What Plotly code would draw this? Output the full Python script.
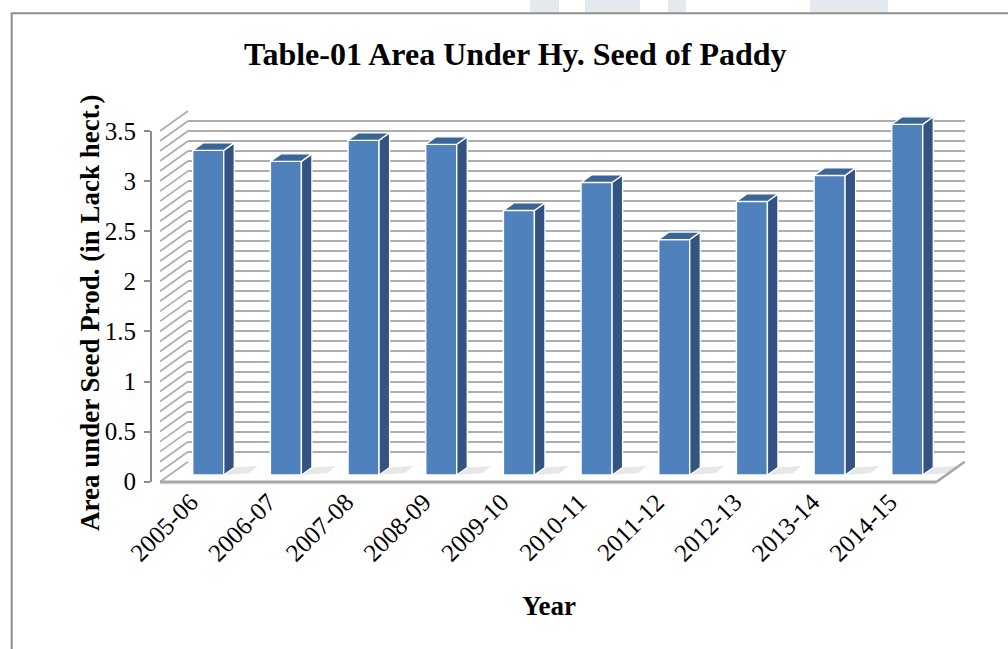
import plotly.graph_objects as go

# ---------------- data ----------------
years = ["2005-06", "2006-07", "2007-08", "2008-09", "2009-10",
         "2010-11", "2011-12", "2012-13", "2013-14", "2014-15"]
area = [3.24, 3.13, 3.34, 3.30, 2.64, 2.92, 2.35, 2.73, 2.99, 3.50]
y_ticks = [0, 0.5, 1, 1.5, 2, 2.5, 3, 3.5]
grid_vals = [round(i * 0.1, 1) for i in range(36)]

# ---------------- geometry (pixels) ----------------
W, H = 1008, 649
def X(p):
    return p / W
def Y(p):
    return 1 - p / H

PXU = 100.2              # pixels per value unit
BASE = 481.7             # front y of value 0
LEFT, RIGHT = 160, 936.7 # front floor edge
DDX, DDY = 28, 20        # full depth offset of floor / walls
BOFF = 6.7 / 20          # depth fraction of the bars' front faces
BDX, BDY = 10.5, 7.5     # bar depth in pixels
YMAX = 3.5
N = len(years)
CAT_PX = (RIGHT - LEFT) / N
LBL_SHIFT = 8            # x tick labels sit slightly left of category centre

FRONT_C = "#4F81BD"
SIDE_C = "#335380"
TOP_C = "#3C6597"
GRID_C = "#AEAEAE"
AXIS_C = "#8C8C8C"
FONT = "Liberation Serif"

fig = go.Figure()

# bars (front faces) on the bar-depth axes
xs = list(range(N))
fig.add_trace(go.Bar(x=xs, y=area, width=0.4, xaxis="x3", yaxis="y3",
                     marker=dict(color=FRONT_C, line=dict(color="white", width=1.5)),
                     hoverinfo="skip", showlegend=False))
dxd = BDX / CAT_PX
dyd = BDY / PXU
for i, v in enumerate(area):
    r = i + 0.2
    l = i - 0.2
    # side face
    fig.add_trace(go.Scatter(x=[r, r + dxd, r + dxd, r, r], y=[0, dyd, v + dyd, v, 0],
                             fill="toself", fillcolor=SIDE_C, mode="lines",
                             line=dict(color="white", width=1.3),
                             xaxis="x3", yaxis="y3", hoverinfo="skip", showlegend=False))
    # top face
    fig.add_trace(go.Scatter(x=[l, r, r + dxd, l + dxd, l], y=[v, v, v + dyd, v + dyd, v],
                             fill="toself", fillcolor=TOP_C, mode="lines",
                             line=dict(color="white", width=1.3),
                             xaxis="x3", yaxis="y3", hoverinfo="skip", showlegend=False))

# invisible traces so the other axes exist
fig.add_trace(go.Scatter(x=[0], y=[0], xaxis="x2", yaxis="y2", mode="markers",
                         marker=dict(opacity=0), hoverinfo="skip", showlegend=False))
fig.add_trace(go.Scatter(x=[0], y=[0], xaxis="x", yaxis="y", mode="markers",
                         marker=dict(opacity=0), hoverinfo="skip", showlegend=False))

shapes = []
# floor
floor = (f"M {X(LEFT)} {Y(BASE)} L {X(RIGHT)} {Y(BASE)} "
         f"L {X(RIGHT + DDX)} {Y(BASE - DDY)} L {X(LEFT + DDX)} {Y(BASE - DDY)} Z")
shapes.append(dict(type="path", path=floor, xref="paper", yref="paper",
                   fillcolor="white", line=dict(width=0), layer="below"))
# bar shadows on the floor
for i in range(N):
    cx = LEFT + DDX * BOFF + CAT_PX * (i + 0.5)
    x0 = cx + 0.2 * CAT_PX
    yb = BASE - DDY * BOFF
    p = (f"M {X(x0)} {Y(yb)} L {X(x0 + 26)} {Y(yb - 2)} L {X(x0 + 34)} {Y(yb - 9)} "
         f"L {X(x0 + BDX)} {Y(yb - BDY)} Z")
    shapes.append(dict(type="path", path=p, xref="paper", yref="paper",
                       fillcolor="rgba(120,120,120,0.18)", line=dict(width=0), layer="below"))
# side wall hatching
for v in grid_vals:
    yf = BASE - v * PXU
    shapes.append(dict(type="line", xref="paper", yref="paper",
                       x0=X(LEFT), y0=Y(yf), x1=X(LEFT + DDX), y1=Y(yf - DDY),
                       line=dict(color=GRID_C, width=1.8), layer="below"))
# floor edges
shapes.append(dict(type="line", xref="paper", yref="paper",
                   x0=X(LEFT), y0=Y(BASE + 1.5), x1=X(RIGHT), y1=Y(BASE + 1.5),
                   line=dict(color="#D0D0D0", width=2), layer="below"))
shapes.append(dict(type="line", xref="paper", yref="paper",
                   x0=X(LEFT), y0=Y(BASE), x1=X(RIGHT), y1=Y(BASE),
                   line=dict(color="#A6A6A6", width=2.5), layer="below"))
shapes.append(dict(type="line", xref="paper", yref="paper",
                   x0=X(RIGHT), y0=Y(BASE), x1=X(RIGHT + DDX), y1=Y(BASE - DDY),
                   line=dict(color="#A6A6A6", width=2.5), layer="below"))
# outer chart border
shapes.append(dict(type="rect", xref="paper", yref="paper",
                   x0=X(11.7), y0=Y(13.3), x1=X(1015), y1=Y(660),
                   line=dict(color="#8E8E8E", width=2), fillcolor="rgba(0,0,0,0)", layer="above"))
# faint watermark fragments above the chart border
for (a, b) in [(530, 559), (585, 640), (668, 686), (810, 888)]:
    shapes.append(dict(type="rect", xref="paper", yref="paper",
                       x0=X(a), y0=Y(12.3), x1=X(b), y1=Y(0),
                       line=dict(width=0), fillcolor="#E3E9ED", layer="below"))

annotations = [
    dict(text="<b>Table-01 Area Under Hy. Seed of Paddy</b>", x=X(515), y=Y(54),
         xref="paper", yref="paper", showarrow=False, xanchor="center", yanchor="middle",
         font=dict(family=FONT, size=32, color="black")),
    dict(text="<b>Area under Seed Prod. (in Lack hect.)</b>", x=X(90), y=Y(313),
         xref="paper", yref="paper", showarrow=False, textangle=-90,
         xanchor="center", yanchor="middle",
         font=dict(family=FONT, size=27, color="black")),
    dict(text="<b>Year</b>", x=X(549), y=Y(606), xref="paper", yref="paper",
         showarrow=False, xanchor="center", yanchor="middle",
         font=dict(family=FONT, size=27, color="black")),
]

fig.update_layout(
    width=W, height=H, autosize=False,
    margin=dict(l=0, r=0, t=0, b=0, pad=0),
    paper_bgcolor="white", plot_bgcolor="rgba(0,0,0,0)",
    showlegend=False, shapes=shapes, annotations=annotations,
    font=dict(family=FONT, color="black"),
    # front axes (labels)
    xaxis=dict(domain=[X(LEFT - LBL_SHIFT), X(RIGHT - LBL_SHIFT)], range=[-0.5, N - 0.5],
               tickmode="array", tickvals=xs, ticktext=years, tickangle=-45,
               showgrid=False, zeroline=False, showline=False, ticks="",
               tickfont=dict(family=FONT, size=25, color="black"),
               automargin=False, fixedrange=True),
    yaxis=dict(domain=[Y(BASE), Y(BASE - YMAX * PXU)], range=[0, YMAX], tickmode="array",
               tickvals=y_ticks, ticktext=[f"{t:g}" for t in y_ticks], showgrid=False,
               zeroline=False, showline=True, linecolor=AXIS_C, linewidth=2,
               ticks="outside", ticklen=6, tickwidth=2, tickcolor=AXIS_C,
               ticklabelstandoff=3,
               tickfont=dict(family=FONT, size=25, color="black"),
               automargin=False, fixedrange=True),
    # back wall gridlines
    xaxis2=dict(domain=[X(LEFT + DDX), X(RIGHT + DDX)], range=[-0.5, N - 0.5],
                showgrid=False, zeroline=False, showticklabels=False, ticks="",
                anchor="y2", automargin=False),
    yaxis2=dict(domain=[Y(BASE - DDY), Y(BASE - DDY - YMAX * PXU)], range=[0, YMAX],
                tickmode="array", tickvals=grid_vals, showgrid=True, gridcolor=GRID_C,
                gridwidth=2.4, zeroline=False, showticklabels=False, ticks="",
                anchor="x2", automargin=False),
    # bar axes (bars' depth plane)
    xaxis3=dict(domain=[X(LEFT + DDX * BOFF), X(RIGHT + DDX * BOFF)], range=[-0.5, N - 0.5],
                showgrid=False, zeroline=False, showticklabels=False, ticks="",
                anchor="y3", automargin=False),
    yaxis3=dict(domain=[Y(BASE - DDY * BOFF), Y(BASE - DDY * BOFF - 4 * PXU)], range=[0, 4],
                showgrid=False, zeroline=False, showticklabels=False, ticks="",
                anchor="x3", automargin=False),
)

fig.write_html("out.html", config={"displayModeBar": False},
               post_script="document.body.style.margin='0';document.body.style.overflow='hidden';")
